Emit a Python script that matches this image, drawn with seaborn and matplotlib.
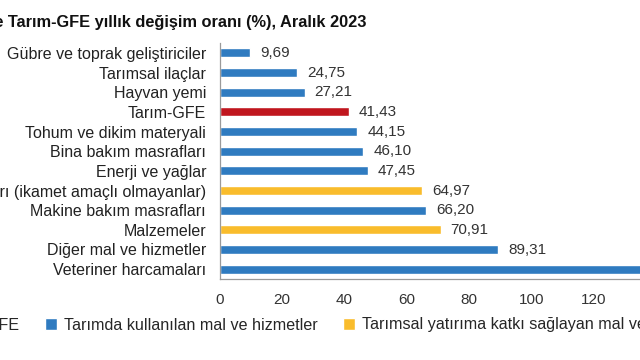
import matplotlib
matplotlib.use("Agg")
import matplotlib.pyplot as plt
from matplotlib.patches import Patch
import pandas as pd
import seaborn as sns

# Values (Veteriner is cut off at the right edge, estimated)
categories = [
    "Gübre ve toprak geliştiriciler",
    "Tarımsal ilaçlar",
    "Hayvan yemi",
    "Tarım-GFE",
    "Tohum ve dikim materyali",
    "Bina bakım masrafları",
    "Enerji ve yağlar",
    "Binaları (ikamet amaçlı olmayanlar)",
    "Makine bakım masrafları",
    "Malzemeler",
    "Diğer mal ve hizmetler",
    "Veteriner harcamaları",
]
values = [9.69, 24.75, 27.21, 41.43, 44.15, 46.10, 47.45, 64.97, 66.20, 70.91, 89.31, 150.0]
groups = ["use", "use", "use", "total", "use", "use", "use", "inv", "use", "inv", "use", "use"]

group_names = {
    "total": "Tarım-GFE",
    "use": "Tarımda kullanılan mal ve hizmetler",
    "inv": "Tarımsal yatırıma katkı sağlayan mal ve hizmetler",
}
colors = {"total": "#C0161E", "use": "#2F7BC0", "inv": "#F9BC2C"}

df = pd.DataFrame({"Kategori": categories, "Deger": values, "Grup": groups})

sns.set_style("white")
plt.rcParams["font.family"] = ["Liberation Sans", "DejaVu Sans"]

fig = plt.figure(figsize=(6.4, 3.6), dpi=100)
# axes runs past the right edge, the reference is a crop of a wider chart
ax = fig.add_axes([220 / 640, 1 - 279 / 360, 498 / 640, 236 / 360])

sns.barplot(data=df, y="Kategori", x="Deger", hue="Grup", palette=colors,
            order=categories, dodge=False, width=0.47, legend=False, ax=ax,
            saturation=1)

for i, v in enumerate(values):
    ax.text(v + 3.2, i, f"{v:.2f}".replace(".", ","), va="center", ha="left",
            fontsize=11, color="#333333")

ax.set_xlim(0, 160)
ax.set_ylim(11.5, -0.5)
ax.set_xticks(range(0, 161, 20))
ax.set_xlabel("")
ax.set_ylabel("")

for s in ["top", "right"]:
    ax.spines[s].set_visible(False)
for s in ["left", "bottom"]:
    ax.spines[s].set_color("#9a9a9a")
    ax.spines[s].set_linewidth(0.9)

ax.set_yticks([i - 0.5 for i in range(13)], minor=True)
ax.tick_params(axis="y", which="major", length=0, pad=10, labelsize=11.5, labelcolor="#222222")
ax.tick_params(axis="y", which="minor", length=5, color="#9a9a9a", direction="out")
ax.tick_params(axis="x", which="major", length=5, color="#9a9a9a", direction="out",
               labelsize=11, labelcolor="#333333", pad=5)
ax.grid(False)

fig.text(367 / 640, 1 - 22 / 360,
         "Ana harcama gruplarına göre Tarım-GFE yıllık değişim oranı (%), Aralık 2023",
         ha="right", va="center", fontsize=11.8, fontweight="bold", color="#111111")

handles = [Patch(facecolor=colors[g], label=group_names[g]) for g in ["total", "use", "inv"]]
fig.legend(handles=handles, loc="center left", bbox_to_anchor=(-78 / 640, 1 - 325 / 360),
           ncol=3, frameon=False, fontsize=11.6, handlelength=0.75, handleheight=0.75,
           handletextpad=0.4, columnspacing=1.6, borderpad=0, borderaxespad=0)

fig.savefig("out.png", dpi=100)
